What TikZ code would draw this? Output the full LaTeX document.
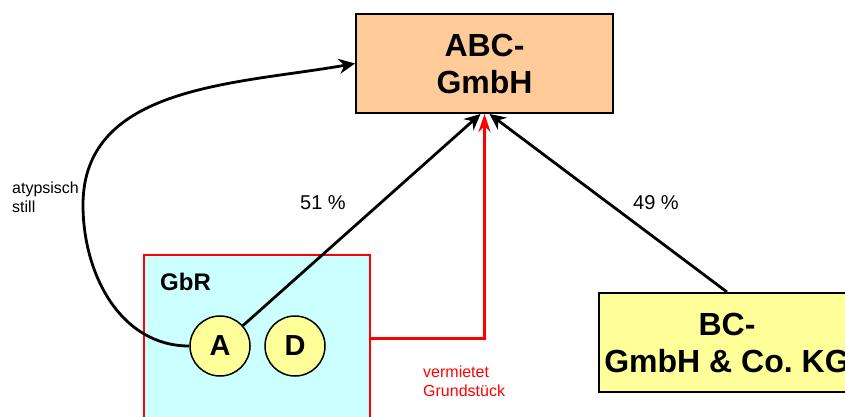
\documentclass[tikz,border=0pt]{standalone}
\usepackage{fontspec}
\setmainfont{Liberation Sans}
\usetikzlibrary{arrows.meta,calc}
\definecolor{peach}{HTML}{FFCC99}
\definecolor{lyellow}{HTML}{FFFF99}
\definecolor{lcyan}{HTML}{CCFFFF}
\begin{document}
\begin{tikzpicture}[x=1pt,y=-1pt,
  company/.style={draw=black,line width=2pt,align=center,inner sep=0pt,
     minimum width=257pt,minimum height=99pt,font=\fontsize{32}{37}\selectfont\bfseries},
  person/.style={circle,draw=black,line width=1.5pt,fill=lyellow,minimum size=60pt,inner sep=0pt,
     font=\fontsize{29}{29}\selectfont\bfseries},
  blk/.style={line width=2.8pt,-{Stealth[length=16pt,width=15pt]}},
  redl/.style={red,line width=3pt,-{Stealth[length=18pt,width=12pt]}},
  small/.style={inner sep=0pt,align=left,font=\fontsize{16}{19}\selectfont}
]
\useasboundingbox (0,0) rectangle (845,416);
\clip (0,0) rectangle (845,416);
\fill[white] (0,0) rectangle (845,416);
\node[company,fill=peach] (ABC) at (484.5,63.5) {ABC-\\GmbH};
\node[company,fill=lyellow] (BC) at (727,342.5) {BC-\\GmbH \& Co.\ KG};
\node[draw=red,line width=2pt,fill=lcyan,minimum width=226pt,minimum height=166pt,inner sep=0pt] (GbR) at (257,338) {};
\node[anchor=west,inner sep=0pt,font=\fontsize{24}{24}\selectfont\bfseries] (GbRlab) at (160,282) {GbR};
\node[person] (A) at (220,346) {A};
\node[person] (D) at (295,346) {D};
\coordinate (tipA) at ($(ABC.south)+(-4,0)$);
\coordinate (tipB) at ($(ABC.south)+(5,0)$);
\coordinate (cL) at (83,205);
\draw[redl] (GbR.east) -| (ABC.south);
\draw[blk] (A) -- (tipA);
\draw[blk] (BC.north) -- (tipB);
\draw[blk] (A.west) to[out=180,in=-90] (cL) to[out=90,in=190] (ABC.west);
\node[inner sep=0pt,font=\fontsize{20}{20}\selectfont] (p51) at (323,203) {51 \%};
\node[inner sep=0pt,font=\fontsize{20}{20}\selectfont] (p49) at (656,203) {49 \%};
\node[small,anchor=west] (atyp) at (12,197.5) {atypsisch\\still};
\node[small,anchor=west,text=red] (verm) at (423,381.5) {vermietet\\Grundstück};
\end{tikzpicture}
\end{document}
